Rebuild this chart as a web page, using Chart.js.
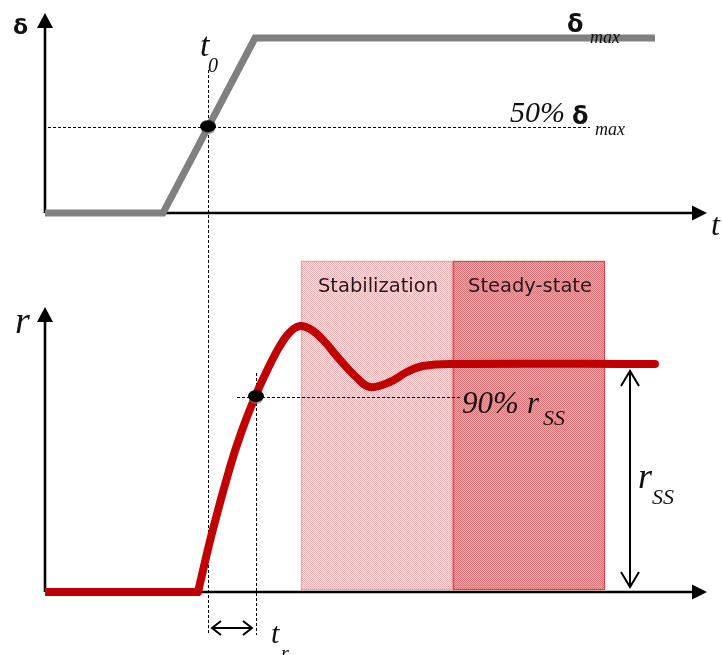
<!DOCTYPE html>
<html>
<head>
<meta charset="utf-8">
<script src="https://cdn.jsdelivr.net/npm/chart.js@4.4.0/dist/chart.umd.min.js"></script>
<style>
  body { margin: 0; background: #fff; }
  #top { position: absolute; left: 0; top: 0; width: 723px; height: 240px; }
  #bottom { position: absolute; left: 0; top: 240px; width: 723px; height: 415px; }
</style>
</head>
<body>
<div id="top"><canvas id="topChart"></canvas></div>
<div id="bottom"><canvas id="bottomChart"></canvas></div>
<script>
// input delta(t), as a fraction of delta max
const inputT = [0, 118, 210, 610];
const inputDelta = [0, 0, 1, 1];
const t0 = 163;
const halfDelta = 0.49;

// response r(t), as a fraction of r steady-state
const flatT = [0, 153];
const flatR = [0, 0];
const respT = [153, 167, 185, 196, 210, 223, 235, 245, 255, 267, 280, 295, 312, 325, 345, 362, 378, 408, 610];
const respR = [0, 0.259, 0.548, 0.697, 0.855, 0.98, 1.08, 1.14, 1.167, 1.149, 1.096, 1.018, 0.939, 0.899, 0.921, 0.965, 0.991, 1.0, 1.0];
const riseT = 211;
const riseR = 0.855;

// shaded phases
const phaseNames = ["Stabilization", "Steady-state"];
const phaseStart = [256, 408];
const phaseEnd = [408, 560];
const phaseTop = 1.452;

const RED = "#c00000";
const GRAY = "#808080";

function pts(xs, ys) {
  return xs.map((x, i) => ({ x: x, y: ys[i] }));
}

function makePattern(a, b) {
  const c = document.createElement("canvas");
  c.width = 2;
  c.height = 2;
  const g = c.getContext("2d");
  g.fillStyle = a;
  g.fillRect(0, 0, 2, 2);
  g.fillStyle = b;
  g.fillRect(0, 0, 1, 1);
  g.fillRect(1, 1, 1, 1);
  return g.createPattern(c, "repeat");
}

// black flattened dot used as point style
function makeDot() {
  const c = document.createElement("canvas");
  c.width = 18;
  c.height = 16;
  const g = c.getContext("2d");
  g.fillStyle = "rgba(120,120,120,0.6)";
  g.beginPath();
  g.ellipse(9, 9.5, 7, 5.5, 0, 0, Math.PI * 2);
  g.fill();
  g.fillStyle = "#000";
  g.beginPath();
  g.ellipse(9, 7, 8, 6, 0, 0, Math.PI * 2);
  g.fill();
  return c;
}

function txt(ctx, s, x, y, font, align, color) {
  ctx.font = font;
  ctx.textAlign = align || "left";
  ctx.textBaseline = "alphabetic";
  ctx.fillStyle = color || "#111";
  ctx.fillText(s, x, y);
}

function axes(ctx, x0, y0, yTip, xTip) {
  ctx.save();
  ctx.strokeStyle = "#000";
  ctx.fillStyle = "#000";
  ctx.lineWidth = 2.6;
  ctx.beginPath();
  ctx.moveTo(x0, y0);
  ctx.lineTo(x0, yTip + 10);
  ctx.moveTo(x0, y0);
  ctx.lineTo(xTip - 10, y0);
  ctx.stroke();
  ctx.beginPath();
  ctx.moveTo(x0, yTip);
  ctx.lineTo(x0 - 8, yTip + 15);
  ctx.lineTo(x0 + 8, yTip + 15);
  ctx.closePath();
  ctx.moveTo(xTip, y0);
  ctx.lineTo(xTip - 15, y0 - 7.5);
  ctx.lineTo(xTip - 15, y0 + 7.5);
  ctx.closePath();
  ctx.fill();
  ctx.restore();
}

function dotted(ctx, x1, y1, x2, y2) {
  ctx.save();
  ctx.strokeStyle = "#000";
  ctx.lineWidth = 1;
  ctx.setLineDash([3, 2]);
  ctx.beginPath();
  if (x1 === x2) {
    const x = Math.round(x1) + 0.5;
    ctx.moveTo(x, y1);
    ctx.lineTo(x, y2);
  } else {
    const y = Math.round(y1) + 0.5;
    ctx.moveTo(x1, y);
    ctx.lineTo(x2, y);
  }
  ctx.stroke();
  ctx.restore();
}

// double arrow with open heads
function dblArrow(ctx, x1, y1, x2, y2, len, half) {
  const ang = Math.atan2(y2 - y1, x2 - x1);
  const c = Math.cos(ang), s = Math.sin(ang);
  ctx.save();
  ctx.strokeStyle = "#000";
  ctx.lineWidth = 2;
  ctx.beginPath();
  ctx.moveTo(x1, y1);
  ctx.lineTo(x2, y2);
  ctx.moveTo(x1 + c * len - s * half, y1 + s * len + c * half);
  ctx.lineTo(x1, y1);
  ctx.lineTo(x1 + c * len + s * half, y1 + s * len - c * half);
  ctx.moveTo(x2 - c * len - s * half, y2 - s * len + c * half);
  ctx.lineTo(x2, y2);
  ctx.lineTo(x2 - c * len + s * half, y2 - s * len - c * half);
  ctx.stroke();
  ctx.restore();
}

const SERIF = "'Liberation Serif', 'DejaVu Serif', serif";
const SANS = "'DejaVu Sans', Verdana, sans-serif";

const topPlugin = {
  id: "topDeco",
  beforeDatasetsDraw(chart) {
    const { ctx, chartArea: a, scales: { x, y } } = chart;
    axes(ctx, a.left, a.bottom, 13, 707);
    const px = x.getPixelForValue(t0);
    const py = y.getPixelForValue(halfDelta);
    dotted(ctx, a.left + 3, py, 590, py);
    dotted(ctx, px, 70, px, chart.height);
  },
  afterDatasetsDraw(chart) {
    const ctx = chart.ctx;
    txt(ctx, "δ", 13, 34, "bold 22px " + SANS);
    txt(ctx, "t", 200, 56, "italic 34px " + SERIF);
    txt(ctx, "0", 208, 72, "italic 20px " + SERIF);
    txt(ctx, "δ", 567, 32, "bold 24px " + SANS);
    txt(ctx, "max", 590, 43, "italic 18px " + SERIF);
    txt(ctx, "50%", 510, 122, "italic 30px " + SERIF);
    txt(ctx, "δ", 572, 124, "bold 24px " + SANS);
    txt(ctx, "max", 595, 135, "italic 18px " + SERIF);
    txt(ctx, "t", 711, 235, "italic 32px " + SERIF);
  }
};

const bottomPlugin = {
  id: "bottomDeco",
  beforeDatasetsDraw(chart) {
    const { ctx, chartArea: a, scales: { x, y } } = chart;
    const fills = [makePattern("#fbe4e4", "#efb0b0"), makePattern("#eca8a8", "#d97474")];
    const edges = ["#eba2a2", "#cf5050"];
    for (let i = 0; i < phaseNames.length; i++) {
      const l = x.getPixelForValue(phaseStart[i]);
      const r = x.getPixelForValue(phaseEnd[i]);
      const t = y.getPixelForValue(phaseTop);
      const b = a.bottom - 2;
      ctx.fillStyle = fills[i];
      ctx.fillRect(l, t, r - l, b - t);
      ctx.strokeStyle = edges[i];
      ctx.lineWidth = 1.3;
      ctx.strokeRect(l + 0.5, t + 0.5, r - l - 1, b - t - 1);
    }
    axes(ctx, a.left, a.bottom, 67, 707);
    const p0 = x.getPixelForValue(t0);
    const px = x.getPixelForValue(riseT);
    const py = y.getPixelForValue(riseR);
    dotted(ctx, p0, 0, p0, 395);
    dotted(ctx, px, 133, px, 395);
    dotted(ctx, 237, py, 460, py);
  },
  afterDatasetsDraw(chart) {
    const { ctx, scales: { x, y } } = chart;
    for (let i = 0; i < phaseNames.length; i++) {
      const mid = x.getPixelForValue((phaseStart[i] + phaseEnd[i]) / 2);
      txt(ctx, phaseNames[i], mid + 1, 52, "19.5px " + SANS, "center", "#1c1c1c");
    }
    txt(ctx, "r", 15, 93, "italic 38px " + SERIF);
    txt(ctx, "90%", 462, 173, "italic 31px " + SERIF);
    txt(ctx, "r", 527, 173, "italic 31px " + SERIF);
    txt(ctx, "SS", 543, 185, "italic 22px " + SERIF);
    txt(ctx, "r", 638, 248, "italic 36px " + SERIF);
    txt(ctx, "SS", 652, 264, "italic 22px " + SERIF);
    txt(ctx, "t", 271, 403, "italic 30px " + SERIF);
    txt(ctx, "r", 281, 420, "italic 20px " + SERIF);
    const ya = y.getPixelForValue(1);
    dblArrow(ctx, 630, ya + 7, 630, chart.chartArea.bottom - 5, 15, 9);
    dblArrow(ctx, x.getPixelForValue(t0) + 4, 388, x.getPixelForValue(riseT) - 4, 388, 9, 7);
  }
};

const dot = makeDot();

const common = {
  responsive: true,
  maintainAspectRatio: false,
  animation: false,
  plugins: { legend: { display: false }, tooltip: { enabled: false } },
  elements: { line: { capBezierPoints: false } },
  scales: {
    x: { type: "linear", min: 0, max: 660, display: false },
    y: { type: "linear", min: 0, max: 1, display: false }
  }
};

function dotSet(xv, yv) {
  return {
    data: [{ x: xv, y: yv }],
    showLine: false,
    pointStyle: dot,
    pointRadius: 8,
    order: -1,
    clip: false
  };
}

new Chart(document.getElementById("topChart"), {
  type: "line",
  data: {
    datasets: [
      {
        data: pts(inputT, inputDelta),
        borderColor: GRAY,
        borderWidth: 7,
        pointRadius: 0,
        tension: 0,
        borderJoinStyle: "miter",
        clip: false
      },
      dotSet(t0, halfDelta)
    ]
  },
  options: Object.assign({}, common, {
    layout: { padding: { left: 45, right: 18, top: 38, bottom: 27 } }
  }),
  plugins: [topPlugin]
});

new Chart(document.getElementById("bottomChart"), {
  type: "line",
  data: {
    datasets: [
      {
        data: pts(flatT, flatR),
        borderColor: RED,
        borderWidth: 8,
        pointRadius: 0,
        clip: false
      },
      {
        data: pts(respT, respR),
        borderColor: RED,
        borderWidth: 8,
        pointRadius: 0,
        tension: 0.4,
        borderCapStyle: "round",
        clip: false
      },
      dotSet(riseT, riseR)
    ]
  },
  options: Object.assign({}, common, {
    layout: { padding: { left: 45, right: 18, top: 124, bottom: 63 } }
  }),
  plugins: [bottomPlugin]
});
</script>
</body>
</html>
